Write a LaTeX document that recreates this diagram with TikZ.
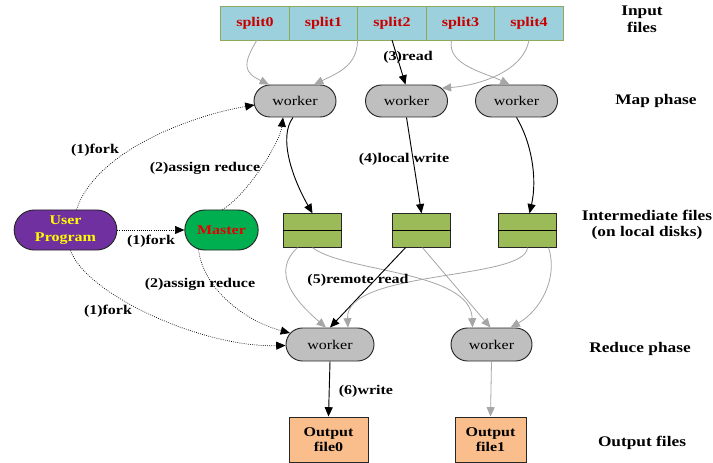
\documentclass[tikz,border=0pt]{standalone}
\usepackage{fontspec}
\setmainfont{Liberation Serif}
\usepackage{graphicx}
\usetikzlibrary{arrows.meta,shapes.misc,calc}
\definecolor{splitfill}{RGB}{156,208,220}
\definecolor{splitborder}{RGB}{140,170,90}
\definecolor{splittext}{RGB}{200,0,0}
\definecolor{workergray}{RGB}{191,191,191}
\definecolor{upfill}{RGB}{112,48,160}
\definecolor{upfont}{RGB}{255,255,0}
\definecolor{masterfill}{RGB}{0,176,80}
\definecolor{masterfont}{RGB}{230,0,0}
\definecolor{interfill}{RGB}{155,187,89}
\definecolor{outfill}{RGB}{250,190,140}
\definecolor{arrowgray}{RGB}{166,166,166}
\newcommand\wx[1]{\scalebox{1.2}[1]{#1}}
\newcommand\wy[1]{\scalebox{1.18}[1]{#1}}
\tikzset{
  lbl/.style={font=\bfseries\fontsize{10}{12}\selectfont, inner sep=0},
  side/.style={font=\bfseries\fontsize{11}{12.5}\selectfont, align=center, inner sep=0},
  splitbox/.style={draw=splitborder, fill=splitfill, line width=0.7pt, minimum width=51.4pt, minimum height=25.5pt, inner sep=0, outer sep=0, text=splittext, font=\bfseries\fontsize{10}{12}\selectfont},
  workerbox/.style={rounded rectangle, draw=black!85, line width=0.7pt, fill=workergray, minimum width=61.5pt, minimum height=24pt, inner sep=0, font=\fontsize{10}{12}\selectfont},
  upbox/.style={rounded rectangle, draw=black!85, line width=0.7pt, fill=upfill, minimum width=77pt, minimum height=30pt, inner sep=0, text=upfont, align=center, font=\bfseries\fontsize{10}{13}\selectfont},
  masterbox/.style={rounded rectangle, draw=black!85, line width=0.7pt, fill=masterfill, minimum width=55pt, minimum height=30pt, inner sep=0, text=masterfont, font=\bfseries\fontsize{10}{12}\selectfont},
  interbox/.style={draw=black!85, line width=0.7pt, fill=interfill, minimum width=44pt, minimum height=25pt, inner sep=0},
  outbox/.style={draw=black!85, line width=0.7pt, fill=outfill, minimum height=33.75pt, inner sep=0, align=center, font=\bfseries\fontsize{10}{11}\selectfont},
  tip/.style={-{Triangle[length=7pt,width=6pt]}},
  garrow/.style={tip, draw=arrowgray, line width=0.6pt},
  barrow/.style={tip, draw=black, line width=0.7pt},
  darrow/.style={tip, draw=black, line width=0.5pt, dash pattern=on 0.6pt off 1pt},
}
\begin{document}
\begin{tikzpicture}[x=0.75pt,y=-0.75pt]
\useasboundingbox (0,0) rectangle (713,463);
\fill[white] (0,0) rectangle (713,463);

% input splits
\node[splitbox] (s0) at (255,23) {\wx{split0}};
\node[splitbox] (s1) at (323.5,23) {\wx{split1}};
\node[splitbox] (s2) at (392,23) {\wx{split2}};
\node[splitbox] (s3) at (460.5,23) {\wx{split3}};
\node[splitbox] (s4) at (529,23) {\wx{split4}};

% map workers
\node[workerbox] (w1) at (295,101) {\wx{worker}};
\node[workerbox] (w2) at (406.5,101) {\wx{worker}};
\node[workerbox] (w3) at (516.5,101) {\wx{worker}};

% user program and master
\node[upbox] (up) at (65.5,230) {\wx{User}\\\wx{Program}};
\node[masterbox] (ms) at (221.5,230) {\wx{Master}};

% intermediate files
\node[interbox] (I1) at (312.5,230.5) {};
\node[interbox] (I2) at (421.5,230.5) {};
\node[interbox] (I3) at (527.5,230.5) {};
\draw[line width=0.7pt] (I1.west) -- (I1.east);
\draw[line width=0.7pt] (I2.west) -- (I2.east);
\draw[line width=0.7pt] (I3.west) -- (I3.east);

% reduce workers
\node[workerbox, minimum width=66pt, minimum height=24.75pt] (r0) at (330,344.5) {\wx{worker}};
\node[workerbox, minimum width=60.75pt, minimum height=24.75pt] (r1) at (491.5,344.5) {\wx{worker}};

% output files
\node[outbox, minimum width=59.25pt] (o0) at (328.5,439.5) {\wx{Output}\\\wx{file0}};
\node[outbox, minimum width=53.25pt] (o1) at (490.5,439.5) {\wx{Output}\\\wx{file1}};

% splits -> map workers
\draw[garrow] ($(s0.south)+(2,0)$) .. controls +(-15,25) and +(-25,-12) .. ($(w1.north)+(-26,0)$);
\draw[garrow] ($(s1.south)+(34,0)$) .. controls +(0,25) and +(25,-12) .. ($(w1.north)+(19,0)$);
\draw[barrow] (s2.south) -- ($(w2.north)+(-1,0)$);
\draw[garrow] ($(s3.south)+(-9,0)$) .. controls +(-5,25) and +(-25,-12) .. ($(w3.north)+(-7,0)$);
\draw[garrow] (s4.south) .. controls +(-5,30) and +(40,-3) .. (w2.20);

% user program forks
\draw[darrow] ($(up.north)+(11,0)$) .. controls +(20,-60) and +(-60,10) .. ($(w1.west)+(1,4)$);
\draw[darrow] (up.east) -- (ms.west);
\draw[darrow] ($(up.south)+(5,0)$) .. controls +(15,43) and +(-85,2) .. ($(r0.west)+(0,1)$);

% master assigns
\draw[darrow] ($(ms.north)+(1,0)$) .. controls +(25,-15) and +(-3,25) .. ($(w1.south)+(-12,0)$);
\draw[darrow] ($(ms.south)+(-23,-1)$) .. controls +(5,40) and +(-45,-12) .. ($(r0.west)+(4.5,-11.5)$);

% local writes
\draw[barrow] ($(w1.south)+(-2,0)$) .. controls +(-15,20) and +(-20,-35) .. (I1.north);
\draw[barrow] (w2.south) -- (I2.north);
\draw[barrow] (w3.south) .. controls +(15,25) and +(8,-35) .. ($(I3.north)+(2,0)$);

% remote reads
\draw[garrow] ($(I1.south)+(-15,0)$) .. controls +(-25,23) and +(-35,-30) .. ($(r0.north)+(-4,0)$);
\draw[garrow] (I1.south) .. controls +(33,25) and +(-2,-57) .. ($(r1.north)+(-19,0)$);
\draw[barrow] ($(I2.south)+(-16,0)$) -- (r0.north);
\draw[garrow] ($(I2.south)+(1,0)$) -- ($(r1.north)+(-1,0)$);
\draw[garrow] (I3.south) .. controls +(-2,33) and +(-3,-58) .. ($(r0.north)+(18,0)$);
\draw[garrow] ($(I3.south)+(21,0)$) .. controls +(10,30) and +(30,-17) .. ($(r1.north)+(19,0)$);

% writes
\draw[barrow] (r0.south) -- (o0.north);
\draw[garrow] (r1.south) -- (o1.north);

% edge labels
\node[lbl] (l3) at (408,57) {\wx{(3)read}};
\node[lbl] (l1a) at (95,150) {\wx{(1)fork}};
\node[lbl] (l2a) at (205,168) {\wx{(2)assign reduce}};
\node[lbl] (l4) at (404,159) {\wx{(4)local write}};
\node[lbl] (l1b) at (151,241) {\wx{(1)fork}};
\node[lbl] (l2b) at (200,284) {\wx{(2)assign reduce}};
\node[lbl] (l1c) at (108,311) {\wx{(1)fork}};
\node[lbl] (l5) at (358,280) {\wx{(5)remote read}};
\node[lbl] (l6) at (366,391) {\wx{(6)write}};

% side labels
\node[side] (tin) at (642,19) {\wy{Input}\\\wy{files}};
\node[side] (tmap) at (656,101) {\wy{Map phase}};
\node[side] (tint) at (647,225) {\wy{Intermediate files}\\\wy{(on local disks)}};
\node[side] (tred) at (640,349) {\wy{Reduce phase}};
\node[side] (tout) at (642,443) {\wy{Output files}};
\end{tikzpicture}
\end{document}
